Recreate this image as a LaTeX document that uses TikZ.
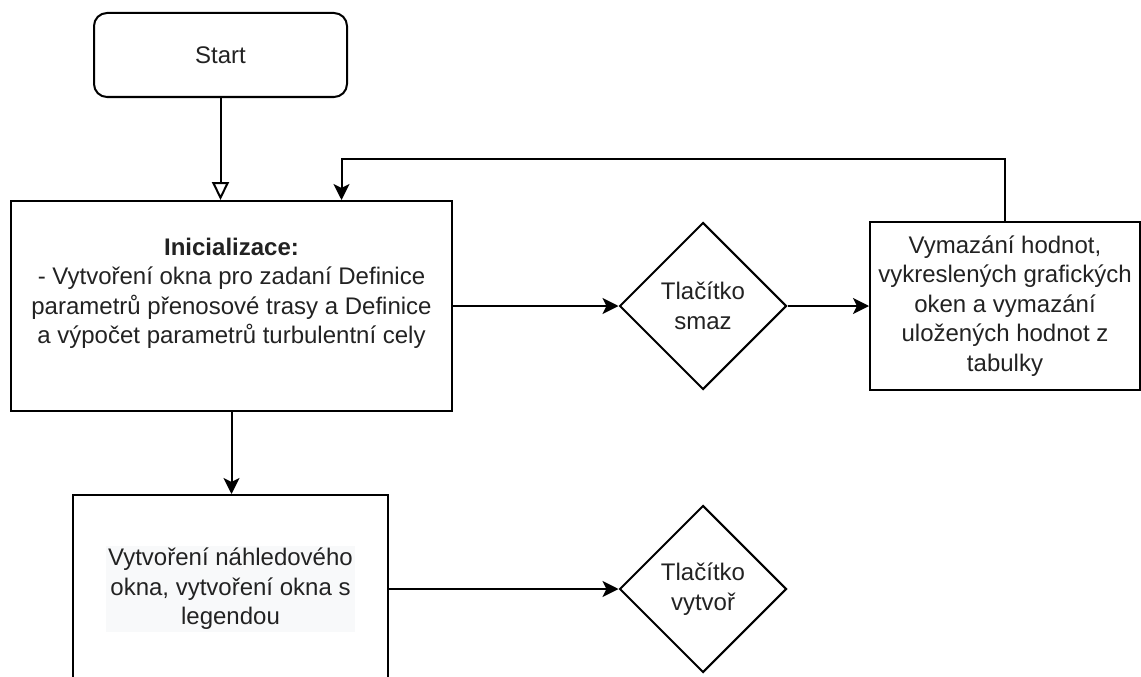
\documentclass[tikz,border=0pt]{standalone}
\usepackage{fontspec}
\setmainfont{Liberation Sans}
\usetikzlibrary{shapes.geometric,arrows.meta}
\definecolor{txt}{HTML}{222222}
\definecolor{hl}{HTML}{F8F9FA}
\begin{document}
\begin{tikzpicture}[x=1pt,y=-1pt, line width=2pt,
  box/.style={draw, rectangle, inner sep=0pt},
  lbl/.style={font=\fontsize{24pt}{29.5pt}\selectfont, text=txt, align=center, inner sep=0pt},
  dec/.style={draw, diamond, inner sep=0pt, minimum width=167pt, minimum height=167pt},
  arr/.style={-{Stealth[length=16pt,width=16pt,inset=4pt]}},
  oarr/.style={-{Triangle[open,length=18pt,width=17pt,fill=white]}}]
\useasboundingbox (0,0) rectangle (1141,677);

\node[box, rounded corners=13pt, minimum width=253pt, minimum height=84pt, lbl] (start) at (220.5,55) {Start};
\node[box, minimum width=441pt, minimum height=210pt] (init) at (231.5,306) {};
\node[lbl] (inittext) at (231.5,293.5) {\textbf{Inicializace:}\\- Vytvoření okna pro zadaní Definice\\parametrů přenosové trasy a Definice\\a výpočet parametrů turbulentní cely};
\node[dec, lbl] (smaz) at (703,306) {Tlačítko\\smaz};
\node[box, minimum width=270pt, minimum height=168pt, lbl] (clr) at (1005,306) {Vymazání hodnot,\\vykreslených grafických\\oken a vymazání\\uložených hodnot z\\tabulky};
\node[box, minimum width=315pt, minimum height=188pt] (vyt) at (230.5,589) {};
\node[lbl, fill=hl, inner sep=2pt] (vyttext) at (230.5,589) {Vytvoření náhledového\\okna, vytvoření okna s\\legendou};
\node[dec, lbl] (vytvor) at (703,589) {Tlačítko\\vytvoř};

\draw[oarr] (start.south) -- (start.south |- init.north);
\draw[arr] (init.south) -- (init.south |- vyt.north);
\draw[arr] (init.east) -- (smaz.west);
\draw[arr] (smaz.east) -- (clr.west);
\draw[arr] (vyt.east |- vytvor.west) -- (vytvor.west);
\draw[arr] (clr.north) |- ([xshift=110pt,yshift=41pt]init.north) -- ([xshift=110pt]init.north);
\end{tikzpicture}
\end{document}
